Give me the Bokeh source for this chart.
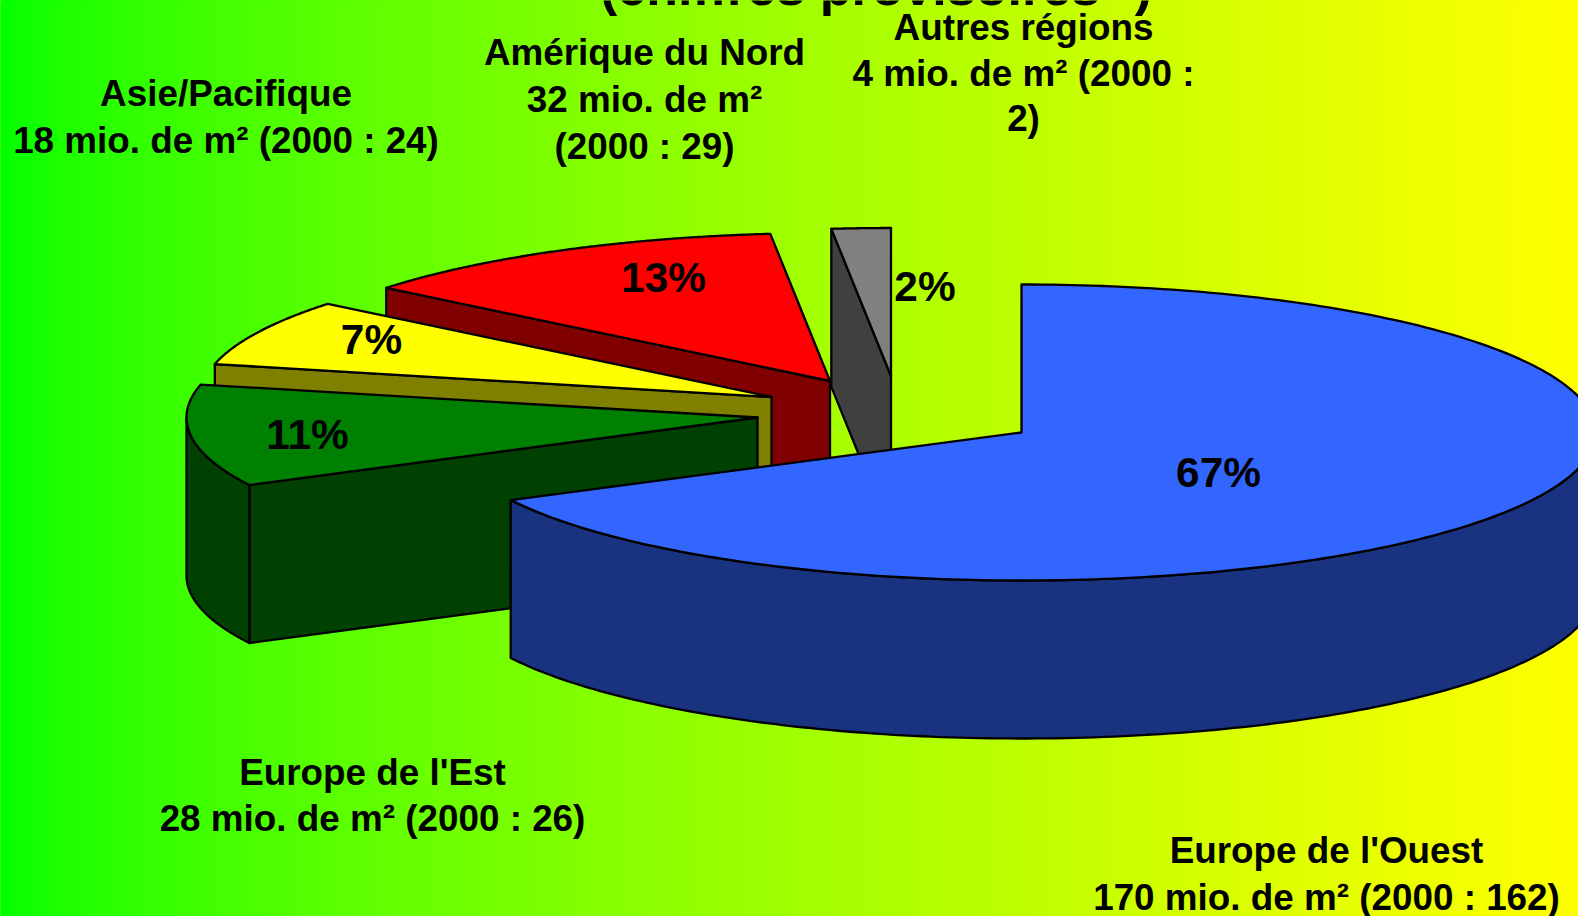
import numpy as np
from bokeh.plotting import figure
from bokeh.models import Range1d
from bokeh.core.properties import value
from bokeh.embed import file_html
from bokeh.resources import INLINE

regions = ["Europe de l'Ouest", "Europe de l'Est", "Asie/Pacifique", "Amérique du Nord", "Autres régions"]
values_2005 = [170, 28, 18.3, 31.5, 4.2]
percent_labels = ["67%", "11%", "7%", "13%", "2%"]
title_line = "(chiffres provisoires *)"
label_lines = [
    ["Europe de l'Ouest", "170 mio. de m² (2000 : 162)"],
    ["Europe de l'Est", "28 mio. de m² (2000 : 26)"],
    ["Asie/Pacifique", "18 mio. de m² (2000 : 24)"],
    ["Amérique du Nord", "32 mio. de m²", "(2000 : 29)"],
    ["Autres régions", "4 mio. de m² (2000 :", "2)"],
]
top_colors = ["#3366FF", "#008000", "#FFFF00", "#FF0000", "#808080"]
wall_colors = ["#1A3380", "#004000", "#808000", "#800000", "#404040"]

W, H = 1578, 916
RY, DEPTH = 148, 158
radii_x = [574, 571, 571, 571, 571]
centers = [(1021, 432), (757, 417), (771, 396.5), (829.5, 380.5), (890.5, 375.5)]
pct_pos = [(1218, 472), (307, 434), (371, 339), (663, 277), (924.5, 286)]
label_pos = [(1326, 850), (372, 772), (225.5, 93), (644, 52), (1023, 27)]
line_steps = [46.5, 46, 47, 47, 45.5]
FONT = value("Liberation Sans")
LABEL_SIZE, PCT_SIZE = "36.85px", "42.4px"
GAMMA = 0.67

p = figure(width=W, height=H, x_range=Range1d(0, W), y_range=Range1d(H, 0),
           output_backend="svg", toolbar_location=None, min_border=0,
           border_fill_color="#00FF00", background_fill_color="#00FF00")
p.axis.visible = False
p.grid.visible = False
p.outline_line_color = None

# background gradient: green on the left to yellow on the right
reds = np.arange(256)
stops = (reds / 255) ** (1 / GAMMA) * W
stops[0] = -10
p.quad(left=stops, right=[W + 10] * 256, top=[-10] * 256, bottom=[H + 10] * 256,
       fill_color=["#%02X%02X00" % (v, 255) for v in reds], line_color=None)

def ell(c, rx, a):
    a = np.asarray(a)
    return c[0] + rx * np.sin(a), c[1] - RY * np.cos(a)

total = sum(values_2005)
edges = np.radians(np.cumsum([0] + values_2005) / total * 360)

def draw(xs, ys, color):
    p.patch(list(xs), list(ys), fill_color=color, line_color="black", line_width=2.3, line_join="round")

for i in [4, 3, 2, 1, 0]:
    c, rx = centers[i], radii_x[i]
    a0, a1 = edges[i], edges[i + 1]
    # the cut face that looks towards the viewer
    if i > 0:
        x, y = ell(c, rx, a0)
        draw([c[0], x, x, c[0]], [c[1], y, y + DEPTH, c[1] + DEPTH], wall_colors[i])
    # outer wall on the front half
    lo, hi = max(a0, np.pi / 2), min(a1, 1.5 * np.pi)
    if lo < hi:
        t = np.linspace(lo, hi, 160)
        x, y = ell(c, rx, t)
        draw(np.r_[x, x[::-1]], np.r_[y, y[::-1] + DEPTH], wall_colors[i])
    # top face
    t = np.linspace(a0, a1, 240)
    x, y = ell(c, rx, t)
    draw(np.r_[c[0], x], np.r_[c[1], y], top_colors[i])

for txt, (x, y) in zip(percent_labels, pct_pos):
    p.text([x], [y], text=[txt], text_font=FONT, text_font_style="bold", text_font_size=PCT_SIZE,
           text_align="center", text_baseline="middle", text_color="black")

for lines, (x, y), step in zip(label_lines, label_pos, line_steps):
    for k, line in enumerate(lines):
        p.text([x], [y + k * step], text=[line], text_font=FONT, text_font_style="bold",
               text_font_size=LABEL_SIZE, text_align="center", text_baseline="middle", text_color="black")

p.text([875.5], [-14], text=[title_line], text_font=FONT, text_font_style="bold", text_font_size="52px",
       text_align="center", text_baseline="middle", text_color="black")

html = file_html(p, INLINE)
html = html.replace("<head>", "<head><style>html,body{margin:0!important;padding:0;overflow:hidden;background:#FFFF00}</style>", 1)
open("out.html", "w").write(html)
